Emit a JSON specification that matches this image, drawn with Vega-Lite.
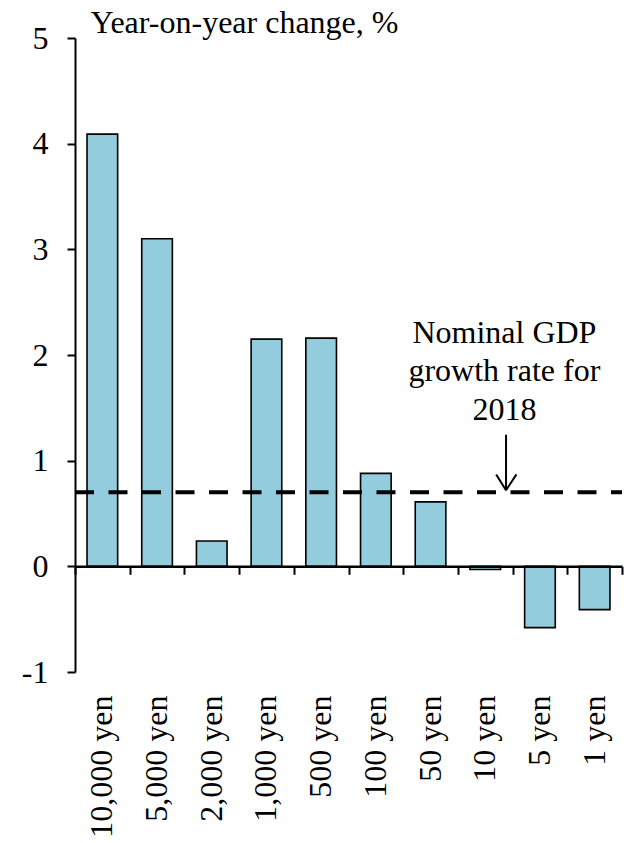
{
  "$schema": "https://vega.github.io/schema/vega-lite/v6.json",
  "width": 547,
  "height": 634,
  "autosize": {"type": "none"},
  "padding": {"left": 75, "top": 38, "right": 12, "bottom": 171},
  "config": {
    "font": "Liberation Serif",
    "view": {"stroke": null},
    "axis": {"labelColor": "black", "titleColor": "black", "domainColor": "black", "tickColor": "black"}
  },
  "layer": [
    {
      "data": {
        "values": [
          {"note": "10,000 yen", "change": 4.09},
          {"note": "5,000 yen", "change": 3.1},
          {"note": "2,000 yen", "change": 0.24},
          {"note": "1,000 yen", "change": 2.15},
          {"note": "500 yen", "change": 2.16},
          {"note": "100 yen", "change": 0.88},
          {"note": "50 yen", "change": 0.61},
          {"note": "10 yen", "change": -0.03},
          {"note": "5 yen", "change": -0.58},
          {"note": "1 yen", "change": -0.41}
        ]
      },
      "mark": {"type": "bar", "fill": "#93CDDD", "stroke": "black", "strokeWidth": 1.6},
      "encoding": {
        "x": {
          "field": "note",
          "type": "nominal",
          "sort": null,
          "scale": {"paddingInner": 0.44, "paddingOuter": 0.22},
          "axis": {
            "orient": "bottom",
            "title": null,
            "domain": false,
            "ticks": false,
            "tickSize": 0,
            "labelAngle": -90,
            "labelAlign": "right",
            "labelBaseline": "middle",
            "labelPadding": 23,
            "labelFontSize": 32
          }
        },
        "y": {
          "field": "change",
          "type": "quantitative",
          "scale": {"domain": [-1, 5], "nice": false, "zero": false},
          "axis": {
            "values": [-1, 0, 1, 2, 3, 4, 5],
            "grid": false,
            "domainWidth": 2,
            "tickWidth": 2,
            "tickSize": 8,
            "labelFontSize": 32,
            "labelPadding": 19,
            "labelExpr": "datum.value < 0 ? '-' + (-datum.value) : '' + datum.value",
            "title": "Year-on-year change, %",
            "titleAngle": 0,
            "titleAlign": "left",
            "titleBaseline": "alphabetic",
            "titleX": 15,
            "titleY": -6,
            "titleFontSize": 32,
            "titleFontWeight": "normal"
          }
        }
      }
    },
    {
      "encoding": {
        "x": {
          "field": "px",
          "type": "quantitative",
          "scale": {"domain": [0, 10], "nice": false, "zero": false},
          "axis": {
            "orient": "bottom",
            "offset": -105.67,
            "values": [0, 1, 2, 3, 4, 5, 6, 7, 8, 9, 10],
            "labels": false,
            "title": null,
            "grid": false,
            "domainWidth": 2.5,
            "tickWidth": 2,
            "tickSize": 8,
            "zindex": 2
          }
        }
      },
      "layer": [
        {
          "data": {"values": [{"px": 0, "px2": 10, "py": 0.7}]},
          "mark": {"type": "rule", "stroke": "black", "strokeWidth": 4, "strokeDash": [19, 14.5]},
          "encoding": {
            "x2": {"field": "px2"},
            "y": {"field": "py", "type": "quantitative", "scale": {"domain": [-1, 5], "nice": false, "zero": false}, "axis": null}
          }
        },
        {
          "data": {
            "values": [
              {"px": 7.88, "px2": 7.88, "py": 1.245, "py2": 0.72},
              {"px": 7.7, "px2": 7.88, "py": 0.87, "py2": 0.72},
              {"px": 8.07, "px2": 7.88, "py": 0.87, "py2": 0.72}
            ]
          },
          "mark": {"type": "rule", "stroke": "black", "strokeWidth": 2},
          "encoding": {
            "x2": {"field": "px2"},
            "y": {"field": "py", "type": "quantitative", "scale": {"domain": [-1, 5], "nice": false, "zero": false}, "axis": null},
            "y2": {"field": "py2"}
          }
        },
        {
          "data": {
            "values": [
              {"px": 7.85, "py": 2.11, "label": "Nominal GDP"},
              {"px": 7.85, "py": 1.75, "label": "growth rate for"},
              {"px": 7.85, "py": 1.387, "label": "2018"}
            ]
          },
          "mark": {"type": "text", "fontSize": 32, "align": "center", "baseline": "alphabetic", "color": "black"},
          "encoding": {
            "y": {"field": "py", "type": "quantitative", "scale": {"domain": [-1, 5], "nice": false, "zero": false}, "axis": null},
            "text": {"field": "label"}
          }
        }
      ]
    }
  ],
  "resolve": {"scale": {"x": "independent"}, "axis": {"y": "independent"}}
}
